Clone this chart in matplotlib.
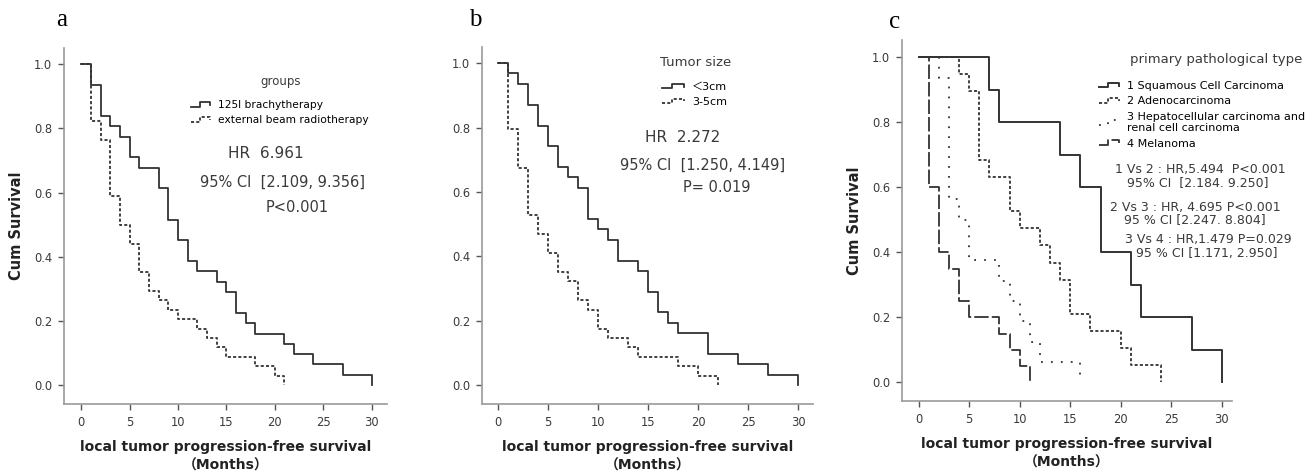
import numpy as np
import matplotlib
matplotlib.use("Agg")
import matplotlib.pyplot as plt
from matplotlib.lines import Line2D
from matplotlib.legend_handler import HandlerBase

plt.rcParams['font.family'] = ['DejaVu Sans', 'Noto Sans CJK SC']

# Kaplan-Meier steps (time in months, survival after the drop)
a_brachy_t = [0, 1, 2, 3, 4, 5, 6, 8, 9, 10, 11, 12, 14, 15, 16, 17, 18, 21, 22, 24, 27, 30]
a_brachy_s = [1.000, 0.935, 0.839, 0.806, 0.774, 0.710, 0.677, 0.613, 0.516, 0.452, 0.387,
              0.355, 0.323, 0.290, 0.226, 0.194, 0.161, 0.129, 0.097, 0.065, 0.032, 0.000]
a_ebrt_t = [0, 1, 2, 3, 4, 5, 6, 7, 8, 9, 10, 12, 13, 14, 15, 18, 20, 21]
a_ebrt_s = [1.000, 0.824, 0.765, 0.588, 0.500, 0.441, 0.353, 0.294, 0.265, 0.235, 0.206,
            0.176, 0.147, 0.118, 0.088, 0.059, 0.029, 0.000]

b_small_t = [0, 1, 2, 3, 4, 5, 6, 7, 8, 9, 10, 11, 12, 14, 15, 16, 17, 18, 21, 24, 27, 30]
b_small_s = [1.000, 0.968, 0.935, 0.871, 0.806, 0.742, 0.677, 0.645, 0.613, 0.516, 0.484,
             0.452, 0.387, 0.355, 0.290, 0.226, 0.194, 0.161, 0.097, 0.065, 0.032, 0.000]
b_large_t = [0, 1, 2, 3, 4, 5, 6, 7, 8, 9, 10, 11, 13, 14, 18, 20, 22]
b_large_s = [1.000, 0.794, 0.676, 0.529, 0.471, 0.412, 0.353, 0.324, 0.265, 0.235, 0.176,
             0.147, 0.118, 0.088, 0.059, 0.029, 0.000]

c_scc_t = [0, 7, 8, 14, 16, 18, 21, 22, 27, 30]
c_scc_s = [1.0, 0.9, 0.8, 0.7, 0.6, 0.4, 0.3, 0.2, 0.1, 0.0]
c_adeno_t = [0, 4, 5, 6, 7, 9, 10, 12, 13, 14, 15, 17, 20, 21, 24]
c_adeno_s = [1.000, 0.947, 0.895, 0.684, 0.632, 0.526, 0.474, 0.421, 0.368, 0.316, 0.211,
             0.158, 0.105, 0.053, 0.000]
c_hcc_t = [0, 2, 3, 4, 5, 8, 9, 10, 11, 12, 16]
c_hcc_s = [1.0, 0.9375, 0.5625, 0.5, 0.375, 0.3125, 0.25, 0.1875, 0.125, 0.0625, 0.0]
c_mel_t = [0, 1, 2, 3, 4, 5, 8, 9, 10, 11]
c_mel_s = [1.0, 0.6, 0.4, 0.35, 0.25, 0.2, 0.15, 0.1, 0.05, 0.0]

a_labels = ['125I brachytherapy', 'external beam radiotherapy']
b_labels = ['＜3cm', '3-5cm']
c_labels = ['1 Squamous Cell Carcinoma', '2 Adenocarcinoma',
            '3 Hepatocellular carcinoma and\nrenal cell carcinoma', '4 Melanoma']

W, H = 1310, 472
LINE = '#333333'
SPINE = '#9a9a9a'
TXT = '#3a3a3a'

SOLID = '-'
SHORT = (0, (1.7, 1.2))
DOTS = (0, (1.0, 4.5))
LONG = (0, (8, 1.7))


def px(x, y):
    return x / W, 1 - y / H


class StepHandler(HandlerBase):
    # SPSS-like little step glyph for the legend
    def create_artists(self, legend, orig_handle, xdescent, ydescent,
                       width, height, fontsize, trans):
        xs = np.array([0, 0.42, 0.42, 0.88, 0.88]) * width - xdescent
        ys = np.array([0.2, 0.2, 0.8, 0.8, 0.45]) * height - ydescent
        ln = Line2D(xs, ys)
        self.update_prop(ln, orig_handle, legend)
        ln.set_transform(trans)
        return [ln]


def make_axes(fig, left, right, top, bottom, xlim, ylim, ylabel=True):
    ax = fig.add_axes([left / W, 1 - bottom / H, (right - left) / W, (bottom - top) / H])
    ax.set_xlim(*xlim)
    ax.set_ylim(*ylim)
    for s in ['top', 'right']:
        ax.spines[s].set_visible(False)
    for s in ['left', 'bottom']:
        ax.spines[s].set_color(SPINE)
        ax.spines[s].set_linewidth(1.2)
    ax.set_xticks([0, 5, 10, 15, 20, 25, 30])
    ax.set_yticks([0.0, 0.2, 0.4, 0.6, 0.8, 1.0])
    ax.set_yticklabels(['0.0', '0.2', '0.4', '0.6', '0.8', '1.0'])
    ax.tick_params(direction='out', length=4.5, width=1, color='#555555',
                   labelsize=8.3, labelcolor=TXT, pad=4)
    ax.set_xlabel('local tumor progression-free survival\n（Months）', fontsize=10,
                  fontweight='bold', color='#222222', linespacing=1.45, labelpad=8)
    if ylabel:
        ax.set_ylabel('Cum Survival', fontsize=10.5, fontweight='bold',
                      color='#222222', labelpad=7)
    return ax


def add_legend(ax, handles, labels, x, y, size, spacing, hlen):
    ax.legend(handles, labels, handler_map={Line2D: StepHandler()}, frameon=False,
              fontsize=size, handlelength=hlen, handletextpad=0.5,
              labelspacing=spacing, borderpad=0, borderaxespad=0,
              loc='upper left', bbox_to_anchor=px(x, y), bbox_transform=fig.transFigure)


fig = plt.figure(figsize=(W / 100, H / 100), dpi=100)

# ---- a ----
ax = make_axes(fig, 64, 387, 48, 404, (-1.79, 31.6), (-0.058, 1.05))
l2, = ax.step(a_ebrt_t, a_ebrt_s, where='post', color=LINE, lw=1.3, ls=SHORT)
l1, = ax.step(a_brachy_t, a_brachy_s, where='post', color=LINE, lw=1.3, ls=SOLID)
add_legend(ax, [l1, l2], a_labels, 191, 100, 7.7, 0.5, 2.0)
fig.text(*px(281, 81), 'groups', fontsize=8.5, color=TXT, ha='center', va='center')
fig.text(*px(228, 153), 'HR  6.961', fontsize=11, color=TXT, va='center')
fig.text(*px(200, 182), '95% CI  [2.109, 9.356]', fontsize=10.5, color=TXT, va='center')
fig.text(*px(266, 207), 'P<0.001', fontsize=10.5, color=TXT, va='center')
fig.text(*px(62, 20), 'a', fontsize=18, family='Liberation Serif', ha='center', va='center')

# ---- b ----
ax = make_axes(fig, 482, 813, 47, 404, (-1.63, 31.5), (-0.058, 1.05), ylabel=False)
l2, = ax.step(b_large_t, b_large_s, where='post', color=LINE, lw=1.3, ls=SHORT)
l1, = ax.step(b_small_t, b_small_s, where='post', color=LINE, lw=1.3, ls=SOLID)
add_legend(ax, [l1, l2], b_labels, 662, 82, 8, 0.44, 2.2)
fig.text(*px(696, 62), 'Tumor size', fontsize=9.5, color=TXT, ha='center', va='center')
fig.text(*px(645, 137), 'HR  2.272', fontsize=11, color=TXT, va='center')
fig.text(*px(620, 165), '95% CI  [1.250, 4.149]', fontsize=10.5, color=TXT, va='center')
fig.text(*px(683, 188), 'P= 0.019', fontsize=10.5, color=TXT, va='center')
fig.text(*px(475, 20), 'b', fontsize=18, family='Liberation Serif', ha='center', va='center')

# ---- c ----
ax = make_axes(fig, 902, 1232, 40, 401, (-1.64, 31.0), (-0.0575, 1.053))
l2, = ax.step(c_adeno_t, c_adeno_s, where='post', color=LINE, lw=1.3, ls=SHORT)
l3, = ax.step(c_hcc_t, c_hcc_s, where='post', color=LINE, lw=1.3, ls=DOTS)
l4, = ax.step(c_mel_t, c_mel_s, where='post', color=LINE, lw=1.3, ls=LONG)
l1, = ax.step(c_scc_t, c_scc_s, where='post', color=LINE, lw=1.4, ls=SOLID)
add_legend(ax, [l1, l2, l3, l4], c_labels, 1099, 81, 8.0, 0.48, 2.0)
fig.text(*px(1216, 59), 'primary pathological type', fontsize=9.5, color=TXT,
         ha='center', va='center')
c_stats = [(1200, 170, '1 Vs 2 : HR,5.494  P<0.001'),
           (1198, 183, '95% CI  [2.184. 9.250]'),
           (1195, 207, '2 Vs 3 : HR, 4.695 P<0.001'),
           (1195, 220, '95 % CI [2.247. 8.804]'),
           (1208, 240, '3 Vs 4 : HR,1.479 P=0.029'),
           (1207, 253, '95 % CI [1.171, 2.950]')]
for x, y, s in c_stats:
    fig.text(*px(x, y), s, fontsize=9, color=TXT, ha='center', va='center')
fig.text(*px(895, 22), 'c', fontsize=18, family='Liberation Serif', ha='center', va='center')

fig.savefig('out.png', dpi=100)
